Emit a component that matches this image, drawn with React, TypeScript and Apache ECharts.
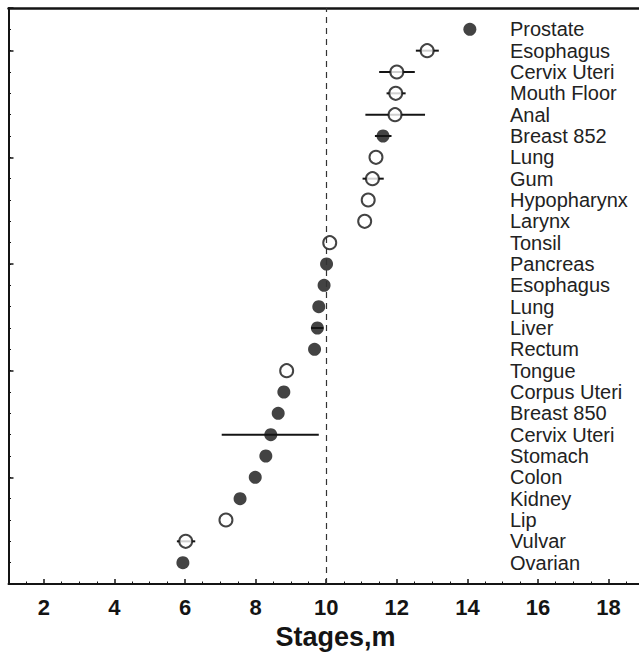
import React, { useEffect, useRef } from "react";
import * as echarts from "echarts";

// Sites listed top to bottom as in the figure
const sites = [
  "Prostate", "Esophagus", "Cervix Uteri", "Mouth Floor", "Anal", "Breast 852",
  "Lung", "Gum", "Hypopharynx", "Larynx", "Tonsil", "Pancreas", "Esophagus",
  "Lung", "Liver", "Rectum", "Tongue", "Corpus Uteri", "Breast 850",
  "Cervix Uteri", "Stomach", "Colon", "Kidney", "Lip", "Vulvar", "Ovarian",
];
const stageValues = [
  14.07, 12.86, 12.0, 11.97, 11.95, 11.61, 11.41, 11.31, 11.19, 11.09, 10.1,
  10.01, 9.94, 9.79, 9.75, 9.67, 8.88, 8.8, 8.64, 8.43, 8.29, 7.99, 7.56, 7.16,
  6.02, 5.94,
];
const errLow: (number | null)[] = [
  null, 12.54, 11.5, 11.71, 11.11, 11.38, null, 11.03, null, null, null,
  null, null, null, 9.57, null, null, null, null, 7.04, null, null, null, null,
  5.77, null,
];
const errHigh: (number | null)[] = [
  null, 13.19, 12.51, 12.25, 12.8, 11.85, null, 11.63, null, null, null,
  null, null, null, 9.92, null, null, null, null, 9.79, null, null, null, null,
  6.29, null,
];
// true = filled marker, false = open marker
const filled = [
  true, false, false, false, false, true, false, false, false, false, false,
  true, true, true, true, true, false, true, true, true, true, true, true, false,
  false, true,
];
const xTickValues = [2, 4, 6, 8, 10, 12, 14, 16, 18];
const xTitle = "Stages,m";
const referenceLine = 10;

export default function App() {
  const ref = useRef<HTMLDivElement>(null);
  useEffect(() => {
    if (!ref.current) return;
    const chart = echarts.init(ref.current, undefined, { renderer: "svg" });
    const n = sites.length;
    const yOf = (i: number) => n - i;
    const ink = "#141414";
    const PX = 35.3;
    const left0 = 8.5;
    const top = 8;
    const height = 576;

    const filledData: number[][] = [];
    const openData: number[][] = [];
    const errData: number[][] = [];
    stageValues.forEach((v, i) => {
      (filled[i] ? filledData : openData).push([v, yOf(i)]);
      const lo = errLow[i];
      const hi = errHigh[i];
      if (lo != null && hi != null) errData.push([lo, hi, yOf(i)]);
    });

    const font = "'Liberation Sans', Arial, Helvetica, sans-serif";

    chart.setOption({
      animation: false,
      grid: [
        { left: left0, top, height, width: 18.5 * PX, containLabel: false, outerBoundsMode: "none" },
        { left: left0 - PX, top, height, width: 20 * PX, containLabel: false, outerBoundsMode: "none" },
      ],
      graphic: [
        {
          type: "text",
          x: 335.5,
          y: 637,
          silent: true,
          style: {
            text: xTitle,
            fill: ink,
            font: `bold 27px ${font}`,
            textAlign: "center",
            textVerticalAlign: "middle",
          },
        },
      ],
      xAxis: [
        {
          gridIndex: 0, type: "value", min: 1, max: 19.5,
          axisLine: { show: true, lineStyle: { color: ink, width: 2 } },
          axisTick: { show: false }, axisLabel: { show: false }, splitLine: { show: false },
        },
        {
          gridIndex: 1, type: "value", min: 0, max: 20, interval: 2,
          axisLine: { show: false },
          axisTick: { show: true, inside: true, length: 5, lineStyle: { color: ink, width: 1.5 } },
          minorTick: { show: true, splitNumber: 4, length: 2.5, lineStyle: { color: ink, width: 1 } },
          axisLabel: {
            margin: 12, fontFamily: font, fontWeight: "bold", fontSize: 22, color: ink,
            formatter: (v: number) => (xTickValues.indexOf(v) >= 0 ? String(v) : ""),
          },
          splitLine: { show: false },
        },
        {
          gridIndex: 0, type: "value", position: "top", min: 1, max: 19.5,
          axisLine: { show: true, onZero: false, lineStyle: { color: ink, width: 2.5 } },
          axisTick: { show: false }, axisLabel: { show: false }, splitLine: { show: false },
        },
      ],
      yAxis: [
        {
          gridIndex: 0, type: "value", min: 0, max: n + 1, interval: 1,
          axisLine: { show: true, onZero: false, lineStyle: { color: ink, width: 2 } },
          axisTick: { show: true, inside: true, length: 2.5, lineStyle: { color: ink, width: 1 } },
          axisLabel: { show: false }, splitLine: { show: false },
        },
        {
          gridIndex: 0, type: "value", position: "right", min: 0, max: n + 1, interval: 1,
          axisLine: { show: false }, axisTick: { show: false }, splitLine: { show: false },
          axisLabel: {
            inside: true, align: "left", margin: left0 + 18.5 * PX - 510,
            fontFamily: font, fontSize: 20, color: "#222",
            formatter: (v: number) => {
              const idx = n - v;
              return idx >= 0 && idx < n ? sites[idx] : "";
            },
          },
        },
        {
          gridIndex: 1, type: "value", position: "left", min: 0, max: n + 1, interval: 5, offset: -PX,
          axisLine: { show: false },
          axisTick: { show: true, inside: true, length: 5, lineStyle: { color: ink, width: 1.5 } },
          axisLabel: { show: false }, splitLine: { show: false },
        },
      ],
      series: [
        {
          type: "custom", xAxisIndex: 0, yAxisIndex: 0, z: 2, data: errData,
          encode: { x: [0, 1], y: 2 },
          renderItem: (params: any, api: any) => {
            const a = api.coord([api.value(0), api.value(2)]);
            const b = api.coord([api.value(1), api.value(2)]);
            return {
              type: "line",
              shape: { x1: a[0], y1: a[1], x2: b[0], y2: b[1] },
              style: { stroke: ink, lineWidth: 2 },
            };
          },
          markLine: {
            silent: true, symbol: "none", label: { show: false },
            lineStyle: { color: "#333", width: 1.2, type: [6, 5] },
            data: [{ xAxis: referenceLine }],
          },
        },
        {
          type: "scatter", xAxisIndex: 0, yAxisIndex: 0, z: 3, symbol: "circle", symbolSize: 13,
          itemStyle: { color: ink }, data: filledData,
        },
        {
          type: "scatter", xAxisIndex: 0, yAxisIndex: 0, z: 3, symbol: "circle", symbolSize: 13,
          itemStyle: { color: "#fff", borderColor: ink, borderWidth: 2 }, data: openData,
        },
      ],
    });
    return () => chart.dispose();
  }, []);
  return (
    <div ref={ref} style={{ position: "absolute", left: 0, top: 0, width: 639, height: 655 }} />
  );
}
